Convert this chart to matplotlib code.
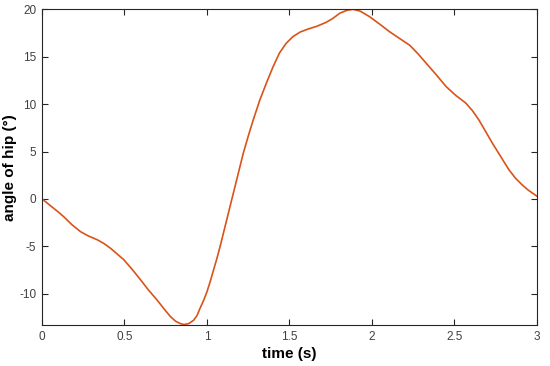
import numpy as np
import matplotlib.pyplot as plt

plt.rcParams['font.family'] = ['Liberation Sans', 'DejaVu Sans']
plt.rcParams['axes.unicode_minus'] = False

# values
t = [0, 0.05, 0.1, 0.133, 0.18, 0.233, 0.28, 0.334, 0.375, 0.415, 0.455,
     0.495, 0.545, 0.596, 0.645, 0.697, 0.74, 0.778, 0.81, 0.838, 0.86,
     0.89, 0.919, 0.94, 0.959, 0.98, 1.0, 1.02, 1.04, 1.06, 1.08, 1.10, 1.12,
     1.14, 1.16, 1.19, 1.22, 1.25, 1.28, 1.32, 1.36, 1.40, 1.44, 1.48, 1.52,
     1.565, 1.61, 1.665, 1.72, 1.76, 1.807, 1.85, 1.887, 1.93, 1.988, 2.05,
     2.11, 2.17, 2.23, 2.28, 2.33, 2.39, 2.45, 2.51, 2.57, 2.61, 2.65, 2.69,
     2.73, 2.78, 2.83, 2.87, 2.91, 2.95, 3.0]
angle = [0, -0.7, -1.4, -1.9, -2.7, -3.45, -3.9, -4.3, -4.7, -5.2, -5.8,
         -6.4, -7.4, -8.5, -9.6, -10.65, -11.6, -12.4, -12.9, -13.15, -13.25,
         -13.15, -12.8, -12.3, -11.5, -10.7, -9.8, -8.7, -7.5, -6.3, -5.0,
         -3.6, -2.2, -0.8, 0.6, 2.7, 4.8, 6.6, 8.3, 10.4, 12.2, 13.9, 15.4,
         16.4, 17.1, 17.6, 17.9, 18.2, 18.6, 19.0, 19.6, 19.9, 20.0, 19.8,
         19.2, 18.4, 17.6, 16.9, 16.2, 15.3, 14.3, 13.1, 11.85, 10.9, 10.1,
         9.3, 8.3, 7.1, 5.9, 4.5, 3.1, 2.2, 1.5, 0.9, 0.3]

fig = plt.figure(figsize=(5.5, 3.66), dpi=100)
ax = fig.add_axes([0.0764, 0.112, 0.8996, 0.8626])
ax.plot(t, angle, color='#D95319', lw=1.2)

ax.set_xlim(0, 3)
ax.set_ylim(-13.3, 20)
ax.set_xticks([0, 0.5, 1, 1.5, 2, 2.5, 3])
ax.set_xticklabels(['0', '0.5', '1', '1.5', '2', '2.5', '3'])
ax.set_yticks([-10, -5, 0, 5, 10, 15, 20])
ax.tick_params(direction='in', top=True, right=True, length=4, width=0.8,
               labelsize=8.5, colors='#262626', labelcolor='#404040', pad=4)
for s in ax.spines.values():
    s.set_color('#262626')
    s.set_linewidth(0.8)

ax.set_xlabel('time (s)', fontsize=11, fontweight='bold', labelpad=3)
ax.set_ylabel('angle of hip (°)', fontsize=11, fontweight='bold', labelpad=2)

fig.savefig('out.png', dpi=100)
